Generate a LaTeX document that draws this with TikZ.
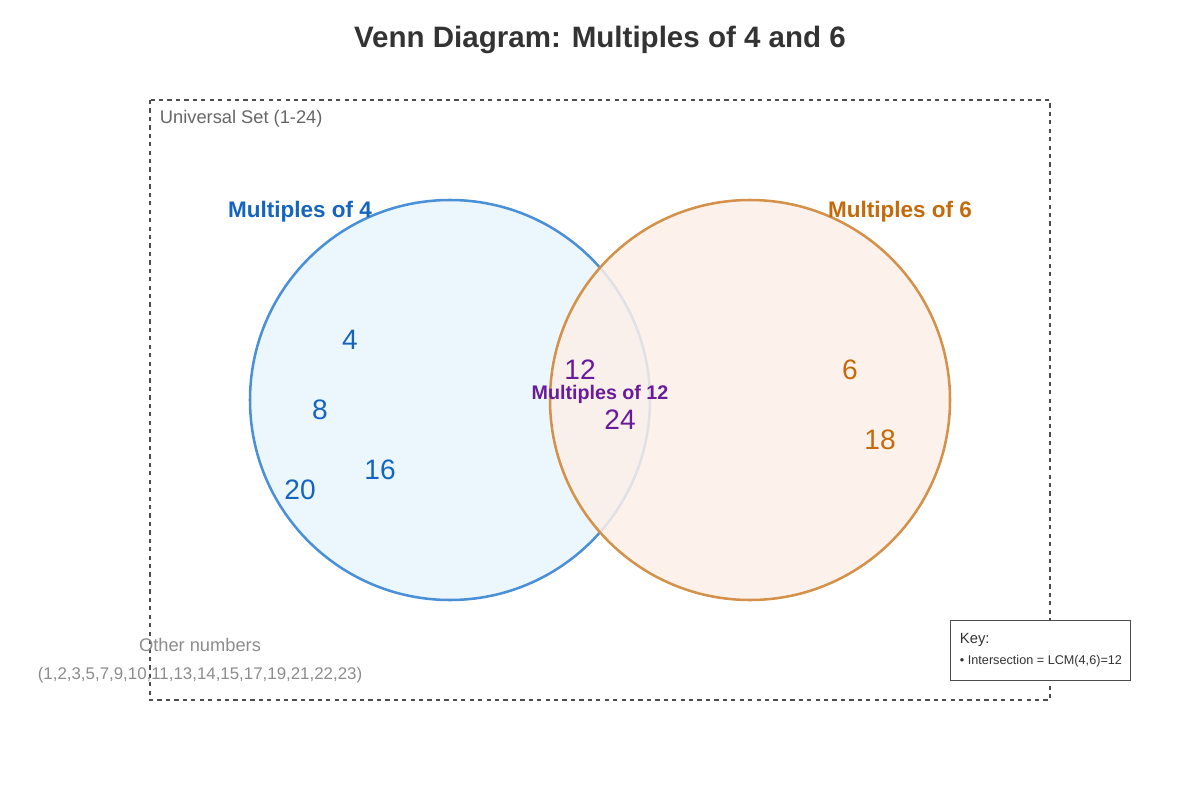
\documentclass[tikz,border=0pt]{standalone}
\usepackage{fontspec}
\setmainfont{Liberation Sans}
\definecolor{fourblue}{HTML}{4A90D9}
\definecolor{fourtext}{HTML}{1565C0}
\definecolor{sixorange}{HTML}{D4914A}
\definecolor{sixtext}{HTML}{C46A0A}
\definecolor{twelvepurple}{HTML}{6A1B9A}
\newcommand{\fs}[1]{\fontsize{#1}{#1}\selectfont}
\begin{document}
\begin{tikzpicture}[x=0.025cm,y=-0.025cm,
    num/.style={font=\fs{20}},
    setlabel/.style={font=\fs{16}\bfseries},
    greytext/.style={text=black!45,font=\fs{12}}]
  \useasboundingbox (0,0) rectangle (1200,800);
  \node[font=\fs{21}\bfseries,text=black!80] (title) at (600,40) {Venn Diagram: Multiples of 4 and 6};
  \draw[black!70,dashed,thick] (150,100) rectangle (1050,700);
  \node[anchor=west,text=black!60,font=\fs{13}] (universe) at (155,119) {Universal Set (1-24)};
  % circles
  \draw[fourblue,line width=1.8pt,fill={rgb,255:red,235;green,246;blue,253}] (450,400) circle[radius=200];
  \draw[sixorange,line width=1.8pt,fill={rgb,255:red,252;green,240;blue,232},fill opacity=0.85] (750,400) circle[radius=200];
  \node[setlabel,text=fourtext] (lblfour) at (300,212) {Multiples of 4};
  \node[setlabel,text=sixtext] (lblsix) at (900,212) {Multiples of 6};
  % numbers
  \node[num,text=fourtext] (n4) at (350,340) {4};
  \node[num,text=fourtext] (n8) at (320,410) {8};
  \node[num,text=fourtext] (n16) at (380,470) {16};
  \node[num,text=fourtext] (n20) at (300,490) {20};
  \node[num,text=twelvepurple] (n12) at (580,370) {12};
  \node[num,text=twelvepurple] (n24) at (620,420) {24};
  \node[text=twelvepurple,font=\fs{14}\bfseries] (lbltwelve) at (600,394) {Multiples of 12};
  \node[num,text=sixtext] (n6) at (850,370) {6};
  \node[num,text=sixtext] (n18) at (880,440) {18};
  % outside
  \node[greytext,font=\fs{13}] (other) at (200,645) {Other numbers};
  \node[greytext] (otherlist) at (200,675) {(1,2,3,5,7,9,10,11,13,14,15,17,19,21,22,23)};
  % key
  \draw[black!70,fill=white] (950,620) rectangle (1130,680);
  \node[anchor=west,font=\fs{10.5},text=black!80] (key) at (955,640) {Key:};
  \node[anchor=west,font=\fs{9},text=black!80] (keyline) at (955,661) {• Intersection = LCM(4,6)=12};
\end{tikzpicture}
\end{document}
